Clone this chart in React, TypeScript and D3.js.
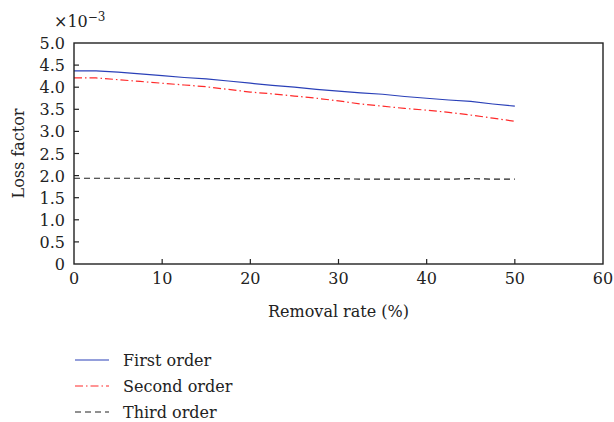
import React, { useEffect, useRef } from "react";
import * as d3 from "d3";

const removalRate = [0, 2.5, 5, 7.5, 10, 12.5, 15, 17.5, 20, 22.5, 25, 27.5, 30, 32.5, 35, 37.5, 40, 42.5, 45, 47.5, 50];
const firstOrder = [4.37, 4.37, 4.34, 4.30, 4.26, 4.22, 4.19, 4.14, 4.09, 4.04, 4.00, 3.95, 3.91, 3.87, 3.84, 3.79, 3.75, 3.71, 3.68, 3.62, 3.57];
const secondOrder = [4.21, 4.21, 4.17, 4.13, 4.09, 4.05, 4.01, 3.95, 3.89, 3.85, 3.80, 3.75, 3.69, 3.62, 3.57, 3.52, 3.48, 3.43, 3.37, 3.30, 3.23];
const thirdOrder = [1.94, 1.94, 1.94, 1.94, 1.94, 1.93, 1.93, 1.93, 1.93, 1.93, 1.93, 1.93, 1.93, 1.92, 1.92, 1.92, 1.92, 1.92, 1.93, 1.92, 1.92];
const xTicks = [0, 10, 20, 30, 40, 50, 60];
const yTicks = [0, 0.5, 1.0, 1.5, 2.0, 2.5, 3.0, 3.5, 4.0, 4.5, 5.0];
const seriesNames = ["First order", "Second order", "Third order"];

const W = 614, H = 422;
const FONT = "'DejaVu Serif', 'Liberation Serif', serif";
const FS = 16;

export default function App() {
  const ref = useRef<SVGSVGElement>(null);
  useEffect(() => {
    const svg = d3.select(ref.current);
    svg.selectAll("*").remove();
    const L = 74, R = 603, T = 43, B = 264;
    const x = d3.scaleLinear().domain([0, 60]).range([L, R]);
    const y = d3.scaleLinear().domain([0, 5]).range([B, T]);

    const series = [
      { vals: firstOrder, color: "#2a40b8", dash: null, w: 1.2 },
      { vals: secondOrder, color: "#ff2a2a", dash: "8,3,1.5,3", w: 1.2 },
      { vals: thirdOrder, color: "#222", dash: "6,4", w: 1.2 },
    ];

    const line = d3.line<number>().x((_, i) => x(removalRate[i])).y((d) => y(d));
    series.forEach((s) => {
      svg.append("path").attr("d", line(s.vals)!).attr("fill", "none")
        .attr("stroke", s.color).attr("stroke-width", s.w)
        .attr("stroke-dasharray", s.dash);
    });

    svg.append("rect").attr("x", L).attr("y", T).attr("width", R - L).attr("height", B - T)
      .attr("fill", "none").attr("stroke", "#222").attr("stroke-width", 1.4);

    xTicks.forEach((t) => {
      if (t !== 0 && t !== 60) {
        svg.append("line").attr("x1", x(t)).attr("x2", x(t)).attr("y1", B).attr("y2", B - 5)
          .attr("stroke", "#222").attr("stroke-width", 1.2);
      }
      svg.append("text").attr("x", x(t)).attr("y", B + 20).attr("text-anchor", "middle")
        .attr("font-family", FONT).attr("font-size", FS).attr("fill", "#222").text(String(t));
    });
    yTicks.forEach((t) => {
      if (t !== 0 && t !== 5) {
        svg.append("line").attr("x1", L).attr("x2", L + 5).attr("y1", y(t)).attr("y2", y(t))
          .attr("stroke", "#222").attr("stroke-width", 1.2);
      }
      svg.append("text").attr("x", 65).attr("y", y(t) + 6).attr("text-anchor", "end")
        .attr("font-family", FONT).attr("font-size", FS).attr("fill", "#222")
        .text(t === 0 ? "0" : t.toFixed(1));
    });

    const ex = svg.append("text").attr("x", 54).attr("y", 27).attr("font-family", FONT)
      .attr("font-size", FS).attr("fill", "#222");
    ex.append("tspan").text("×10");
    ex.append("tspan").attr("dy", -6).attr("font-size", 12).text("−3");

    svg.append("text").attr("transform", `translate(24,${(T + B) / 2}) rotate(-90)`)
      .attr("text-anchor", "middle").attr("font-family", FONT).attr("font-size", FS)
      .attr("fill", "#222").text("Loss factor");
    svg.append("text").attr("x", (L + R) / 2).attr("y", 317).attr("text-anchor", "middle")
      .attr("font-family", FONT).attr("font-size", FS).attr("fill", "#222").text("Removal rate (%)");

    series.forEach((s, i) => {
      const ly = 360 + i * 26;
      svg.append("line").attr("x1", 75).attr("x2", 109).attr("y1", ly).attr("y2", ly)
        .attr("stroke", s.color).attr("stroke-width", 1.2).attr("stroke-dasharray", s.dash);
      svg.append("text").attr("x", 123).attr("y", ly + 5.5).attr("font-family", FONT)
        .attr("font-size", FS).attr("fill", "#222").text(seriesNames[i]);
    });
  }, []);
  return <svg ref={ref} width={W} height={H} style={{ position: "absolute", left: 0, top: 0, background: "#fff" }} />;
}
